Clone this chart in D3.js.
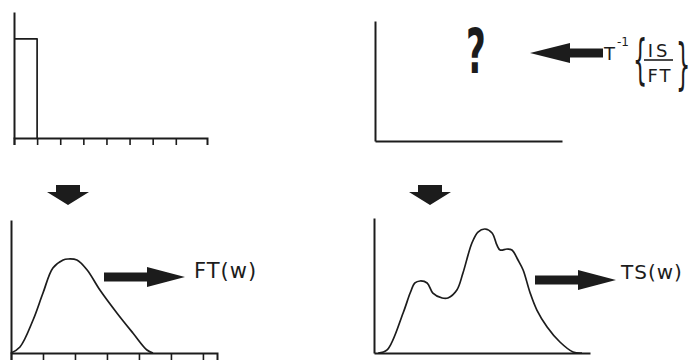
<!DOCTYPE html>
<html>
<head>
<meta charset="utf-8">
<script src="https://cdn.jsdelivr.net/npm/d3@7"></script>
<style>
  body { margin: 0; background: #fff; }
  svg text { font-family: "DejaVu Sans", sans-serif; fill: #1c1c1c; }
</style>
</head>
<body>
<div id="drawingfield"></div>
<script>
// input pulse (time units, amplitude)
var pulseT = [0, 1, 1];
var pulseA = [1, 1, 0];
// tick positions on the two ticked axes
var timeTicks = [0, 1, 2, 3, 4, 5, 6, 7];
var freqTicks = [0, 1, 2, 3, 4, 5, 6];
// FT(w)
var ftW = [0, 0.28, 0.69, 1.0, 1.31, 1.63, 1.78, 2.06, 2.38, 2.78, 3.31, 3.81, 4.25, 4.44];
var ftA = [0, 0.064, 0.351, 0.638, 0.904, 0.989, 1.0, 0.989, 0.883, 0.67, 0.426, 0.213, 0.032, 0];
// TS(w)
var tsW = [0.13, 0.41, 0.91, 1.13, 1.28, 1.44, 1.66, 1.84, 2.13, 2.31, 2.59, 2.78, 3.06, 3.25, 3.47,
           3.69, 3.84, 3.94, 4.16, 4.31, 4.5, 4.66, 4.88, 5.09, 5.41, 5.81, 6.22, 6.5];
var tsA = [0, 0.032, 0.426, 0.638, 0.745, 0.766, 0.745, 0.638, 0.585, 0.585, 0.67, 0.851, 1.17, 1.287, 1.319,
           1.277, 1.149, 1.096, 1.106, 1.096, 0.989, 0.883, 0.638, 0.457, 0.277, 0.117, 0.011, 0];
// labels
var ftLabel = "FT(w)";
var tsLabel = "TS(w)";
var unknownLabel = "?";

var width = 691;
var height = 360;
var ink = "#1c1c1c";

var svg = d3.select("#drawingfield")
    .append("svg")
    .attr("width", width)
    .attr("height", height);

svg.append("rect").attr("width", width).attr("height", height).attr("fill", "#fff");

// draw a pair of axes, optionally with ticks under the x axis
function axes(x, y, ticks) {
    var g = svg.append("g");
    var xa = d3.axisBottom(x).tickSizeOuter(0).tickFormat("");
    if (ticks) xa.tickValues(ticks).tickSize(7); else xa.tickValues([]);
    g.append("g")
        .attr("transform", "translate(0," + y.range()[0] + ")")
        .call(xa);
    g.append("g")
        .attr("transform", "translate(" + x.range()[0] + ",0)")
        .call(d3.axisLeft(y).tickValues([]).tickSizeOuter(0));
    g.selectAll(".domain").attr("stroke", ink).attr("stroke-width", 2);
    g.selectAll(".tick line").attr("stroke", ink).attr("stroke-width", 1.6);
    return g;
}

function curve(x, y, xs, ys, kind) {
    var line = d3.line()
        .x(function(d) { return x(d[0]); })
        .y(function(d) { return y(d[1]); })
        .curve(kind);
    svg.append("path")
        .attr("d", line(d3.zip(xs, ys)))
        .attr("fill", "none")
        .attr("stroke", ink)
        .attr("stroke-width", 1.7)
        .attr("stroke-linejoin", "round");
}

// block arrows
function hArrow(xs, xt, yc, head, sh, hh) {
    var s = xt > xs ? 1 : -1;
    var xb = xt - s * head;
    var pts = [[xs, yc - sh], [xb, yc - sh], [xb, yc - hh], [xt, yc], [xb, yc + hh], [xb, yc + sh], [xs, yc + sh]];
    svg.append("polygon").attr("points", pts.join(" ")).attr("fill", ink);
}
function dArrow(cx, y0, y1, sw, hw, head) {
    var yb = y1 - head;
    var pts = [[cx - sw, y0], [cx + sw, y0], [cx + sw, yb], [cx + hw, yb], [cx, y1], [cx - hw, yb], [cx - sw, yb]];
    svg.append("polygon").attr("points", pts.join(" ")).attr("fill", ink);
}

// panel 1: input pulse
var x1 = d3.scaleLinear().domain([0, 8.35]).range([14, 207]);
var y1 = d3.scaleLinear().domain([0, 1.27]).range([138, 12]);
axes(x1, y1, timeTicks);
curve(x1, y1, pulseT, pulseA, d3.curveLinear);

// panel 2: unknown
var x2 = d3.scaleLinear().domain([0, 1]).range([375, 562]);
var y2 = d3.scaleLinear().domain([0, 1]).range([141, 21]);
axes(x2, y2, null);
svg.append("text")
    .attr("transform", "translate(476,73) scale(0.55,1)")
    .attr("text-anchor", "middle")
    .attr("font-size", 62)
    .attr("font-weight", "bold")
    .text(unknownLabel);
hArrow(603, 530, 53, 40, 4.5, 10);

// T^-1 { IS / FT }
var f = svg.append("g");
f.append("text").attr("x", 604).attr("y", 60).attr("font-size", 18).text("T");
f.append("text").attr("x", 617).attr("y", 46).attr("font-size", 12).text("-1");
f.append("text").attr("transform", "translate(633,78) scale(0.45,1.05)")
    .attr("font-family", "Liberation Sans").attr("font-size", 50).text("{");
f.append("text").attr("x", 659).attr("y", 57).attr("font-size", 18)
    .attr("letter-spacing", 3).attr("text-anchor", "middle").text("IS");
f.append("line").attr("x1", 644).attr("x2", 673).attr("y1", 60).attr("y2", 60)
    .attr("stroke", ink).attr("stroke-width", 1.6);
f.append("text").attr("x", 660).attr("y", 82).attr("font-size", 18)
    .attr("letter-spacing", 2).attr("text-anchor", "middle").text("FT");
f.append("text").attr("transform", "translate(676,83) scale(0.45,1.1)")
    .attr("font-family", "Liberation Sans").attr("font-size", 50).text("}");

// panel 3: FT(w)
var x3 = d3.scaleLinear().domain([0, 6.44]).range([11, 217]);
var y3 = d3.scaleLinear().domain([0, 1.415]).range([353, 220]);
axes(x3, y3, freqTicks);
curve(x3, y3, ftW, ftA, d3.curveCatmullRom.alpha(0.5));
dArrow(68, 185, 205, 12, 21, 13);
hArrow(104, 185, 277, 38, 4.5, 10);
svg.append("text").attr("x", 194).attr("y", 278).attr("font-size", 21)
    .attr("letter-spacing", 1).text(ftLabel);

// panel 4: TS(w)
var x4 = d3.scaleLinear().domain([0, 6.75]).range([374, 590]);
var y4 = d3.scaleLinear().domain([0, 1.436]).range([353, 218]);
axes(x4, y4, null);
curve(x4, y4, tsW, tsA, d3.curveCatmullRom.alpha(0.5));
dArrow(430, 185, 205, 12, 21, 13);
hArrow(535, 616, 280, 38, 4.5, 10);
svg.append("text").attr("x", 621).attr("y", 279).attr("font-size", 20)
    .attr("letter-spacing", 1).text(tsLabel);
</script>
</body>
</html>
